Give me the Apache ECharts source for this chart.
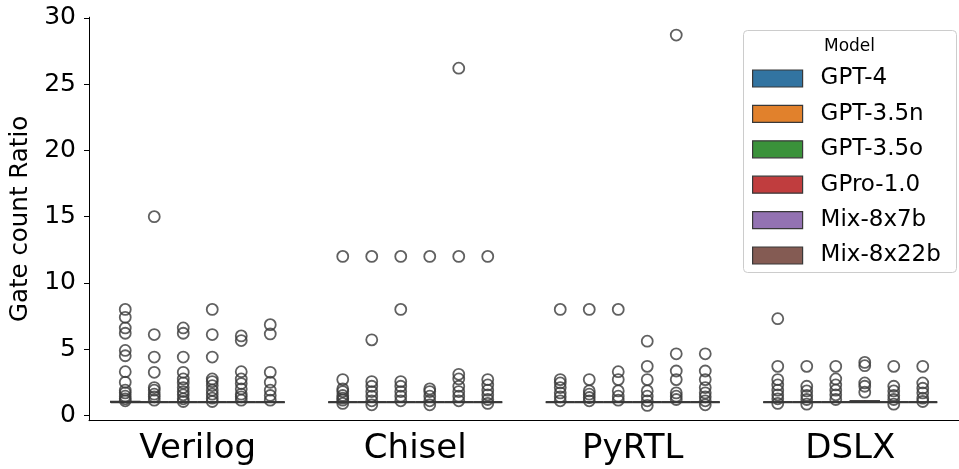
<!DOCTYPE html>
<html lang="en">
<head>
<meta charset="UTF-8">
<title>Gate count Ratio</title>
<script src="https://cdn.jsdelivr.net/npm/echarts@6/dist/echarts.min.js"></script>
<style>
    html, body { margin: 0; padding: 0; background: #fff; }
    #chart { width: 959px; height: 469px; }
</style>
</head>
<body>
<div id="chart"></div>
<script>
var languages = ['Verilog', 'Chisel', 'PyRTL', 'DSLX'];
var models = ['GPT-4', 'GPT-3.5n', 'GPT-3.5o', 'GPro-1.0', 'Mix-8x7b', 'Mix-8x22b'];
var modelColors = ['#3274a1', '#e1812c', '#3a923a', '#c03d3e', '#9372b2', '#845b53'];
var yTicks = [0, 5, 10, 15, 20, 25, 30];

// box stats [low, q1, median, q3, high], one per language
var gpt4Box    = [[1, 1, 1, 1.05, 1.05], [1, 1, 1, 1, 1], [1, 1, 1, 1, 1], [1, 1, 1, 1, 1]];
var gpt35nBox  = [[1, 1, 1, 1, 1], [1, 1, 1, 1, 1], [1, 1, 1, 1, 1], [1, 1, 1, 1, 1]];
var gpt35oBox  = [[1, 1, 1, 1, 1], [1, 1, 1, 1, 1], [1, 1, 1, 1, 1], [1, 1, 1, 1, 1]];
var gproBox    = [[1, 1, 1, 1, 1], [1, 1, 1, 1, 1], [1, 1, 1, 1, 1], [1, 1, 1, 1.1, 1.15]];
var mix7Box    = [[1, 1, 1, 1, 1], [1, 1, 1, 1, 1], [1, 1, 1, 1, 1], [1, 1, 1, 1, 1]];
var mix22Box   = [[1, 1, 1, 1, 1], [1, 1, 1, 1, 1], [1, 1, 1, 1, 1], [1, 1, 1, 1, 1]];

// outliers, one list per language
var gpt4Out = [
    [8.0, 7.4, 6.6, 6.2, 4.9, 4.5, 3.3, 2.5, 1.9, 1.7, 1.45, 1.25, 1.1],
    [12, 2.7, 2.0, 1.8, 1.5, 1.3, 1.15, 0.9],
    [8.0, 2.7, 2.45, 2.1, 1.7, 1.4, 1.1],
    [7.3, 3.7, 2.7, 2.3, 1.9, 1.55, 1.25, 0.9]
];
var gpt35nOut = [
    [15, 6.1, 4.4, 3.25, 2.1, 1.9, 1.6, 1.4, 1.15],
    [12, 5.7, 2.55, 2.2, 1.8, 1.45, 1.1, 0.8],
    [8.0, 2.7, 1.85, 1.6, 1.35, 1.1],
    [3.7, 2.2, 1.85, 1.5, 1.2, 0.85]
];
var gpt35oOut = [
    [6.6, 6.2, 4.4, 3.25, 2.75, 2.45, 2.1, 1.8, 1.55, 1.25, 1.05],
    [12, 8.0, 2.55, 2.2, 1.8, 1.45, 1.1],
    [8.0, 3.3, 2.7, 1.85, 1.45, 1.15],
    [3.7, 2.75, 2.3, 1.9, 1.55, 1.2]
];
var gproOut = [
    [8.0, 6.1, 4.4, 2.75, 2.55, 2.25, 1.9, 1.6, 1.3, 1.05],
    [12, 2.0, 1.8, 1.45, 1.1, 0.8],
    [5.6, 3.7, 2.7, 1.85, 1.45, 1.1, 0.75],
    [4.0, 3.75, 2.45, 2.2, 1.75]
];
var mix7Out = [
    [6.0, 5.65, 3.3, 2.75, 2.4, 2.0, 1.6, 1.4, 1.15],
    [26.2, 12, 3.1, 2.75, 2.2, 1.8, 1.45, 1.1],
    [28.7, 4.65, 3.35, 2.7, 1.7, 1.45, 1.2],
    [3.7, 2.2, 1.85, 1.5, 1.2, 0.85]
];
var mix22Out = [
    [6.85, 6.15, 3.25, 2.5, 1.9, 1.5, 1.15],
    [12, 2.7, 2.3, 1.9, 1.55, 1.2, 0.9],
    [4.65, 3.35, 2.7, 2.1, 1.7, 1.4, 1.1, 0.8],
    [3.7, 2.45, 2.05, 1.7, 1.3, 1.05]
];

var boxStats = [gpt4Box, gpt35nBox, gpt35oBox, gproBox, mix7Box, mix22Box];
var outliers = [gpt4Out, gpt35nOut, gpt35oOut, gproOut, mix7Out, mix22Out];

var FONT = 'DejaVu Sans';
var LINE = '#383838';
var boxW = 0.8 / models.length;

function offsetOf(j) {
    return (j - (models.length - 1) / 2) * boxW;
}

function makeBoxRenderer(color) {
    return function (params, api) {
        var x = api.value(0);
        var lo = api.value(1), q1 = api.value(2), med = api.value(3), q3 = api.value(4), hi = api.value(5);
        var tl = api.coord([x - boxW / 2, q3]);
        var br = api.coord([x + boxW / 2, q1]);
        var mL = api.coord([x - boxW / 2, med]);
        var mR = api.coord([x + boxW / 2, med]);
        var pLo = api.coord([x, lo]), pQ1 = api.coord([x, q1]);
        var pQ3 = api.coord([x, q3]), pHi = api.coord([x, hi]);
        var st = { stroke: LINE, lineWidth: 1.5 };
        return {
            type: 'group',
            children: [
                { type: 'line', shape: { x1: pQ3[0], y1: pQ3[1], x2: pHi[0], y2: pHi[1] }, style: st },
                { type: 'line', shape: { x1: pQ1[0], y1: pQ1[1], x2: pLo[0], y2: pLo[1] }, style: st },
                { type: 'rect', shape: { x: tl[0], y: tl[1], width: br[0] - tl[0], height: br[1] - tl[1] },
                  style: { fill: color, stroke: LINE, lineWidth: 1.5 } },
                { type: 'line', shape: { x1: mL[0], y1: mL[1], x2: mR[0], y2: mR[1] },
                  style: { stroke: LINE, lineWidth: 2.2 } }
            ]
        };
    };
}

var series = [];
models.forEach(function (name, j) {
    var boxData = languages.map(function (l, i) {
        return [i + offsetOf(j)].concat(boxStats[j][i]);
    });
    series.push({
        name: name,
        type: 'custom',
        xAxisIndex: 1,
        renderItem: makeBoxRenderer(modelColors[j]),
        itemStyle: { color: modelColors[j] },
        encode: { x: 0, y: [1, 2, 3, 4, 5] },
        data: boxData,
        z: 2
    });
    var pts = [];
    languages.forEach(function (l, i) {
        outliers[j][i].forEach(function (v) {
            pts.push([i + offsetOf(j), v]);
        });
    });
    series.push({
        name: name + ' outliers',
        type: 'scatter',
        xAxisIndex: 1,
        symbol: 'circle',
        symbolSize: 11,
        itemStyle: { color: 'rgba(0,0,0,0)', borderColor: LINE, borderWidth: 1.8 },
        data: pts,
        z: 3
    });
});

var chart = echarts.init(document.getElementById('chart'));
chart.setOption({
    animation: false,
    backgroundColor: '#fff',
    grid: { left: 89, right: -10, top: 17.2, bottom: 48.3, containLabel: false },
    xAxis: [{
        type: 'category',
        data: languages,
        boundaryGap: true,
        axisLine: { show: true, onZero: false, lineStyle: { color: '#000', width: 1 } },
        axisTick: { alignWithLabel: true, length: 5, lineStyle: { color: '#000' } },
        axisLabel: { color: '#000', fontSize: 34, fontFamily: FONT, margin: 11 },
        splitLine: { show: false }
    }, {
        type: 'value',
        min: -0.5,
        max: 3.5,
        show: false
    }],
    yAxis: {
        type: 'value',
        min: -0.4,
        max: 30.05,
        name: 'Gate count Ratio',
        nameLocation: 'middle',
        nameGap: 56,
        nameTextStyle: { color: '#000', fontSize: 24.5, fontFamily: FONT },
        axisLine: { show: true, onZero: false, lineStyle: { color: '#000', width: 1 } },
        axisTick: { show: true, length: 5, customValues: yTicks, lineStyle: { color: '#000' } },
        axisLabel: { color: '#000', fontSize: 25, fontFamily: FONT, margin: 13, customValues: yTicks },
        splitLine: { show: false }
    },
    legend: {
        orient: 'vertical',
        left: 752,
        top: 67,
        padding: 0,
        itemWidth: 50,
        itemHeight: 17,
        itemGap: 12.4,
        textStyle: { color: '#000', fontSize: 23, fontFamily: FONT, padding: [0, 0, 0, 13] },
        data: models.map(function (m, j) {
            return { name: m, icon: 'rect', itemStyle: { color: modelColors[j], borderColor: LINE, borderWidth: 1.2 } };
        })
    },
    graphic: [{
        type: 'rect',
        left: 743,
        top: 30,
        shape: { width: 213, height: 242, r: 4 },
        style: { fill: 'rgba(255,255,255,0.85)', stroke: '#cccccc', lineWidth: 1 },
        z: 1
    }, {
        type: 'text',
        left: 824,
        top: 38,
        style: { text: 'Model', fill: '#000', fontSize: 17, fontFamily: FONT },
        z: 2
    }],
    series: series
});
</script>
</body>
</html>
